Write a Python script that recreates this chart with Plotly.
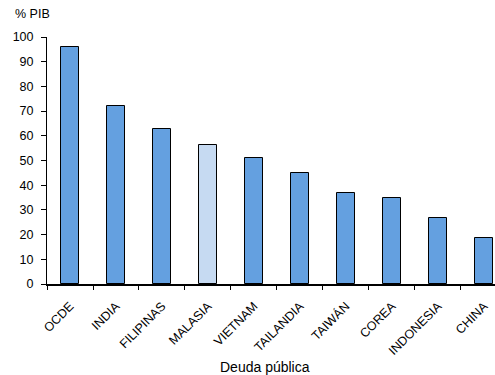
import plotly.graph_objects as go

# Deuda pública (% del PIB)
paises = ["OCDE", "INDIA", "FILIPINAS", "MALASIA", "VIETNAM",
          "TAILANDIA", "TAIWÁN", "COREA", "INDONESIA", "CHINA"]
deuda = [96.0, 72.2, 62.8, 56.1, 51.2, 45.1, 37.0, 34.9, 26.8, 18.8]
destacado = "MALASIA"

AZUL = "#64A0E0"
AZUL_CLARO = "#C6DAF2"
colores = [AZUL_CLARO if p == destacado else AZUL for p in paises]

fig = go.Figure(go.Bar(
    x=paises, y=deuda, width=0.41,
    marker=dict(color=colores, line=dict(color="black", width=1)),
))

fuente = "Liberation Sans, Arial, sans-serif"
fig.update_layout(
    width=495, height=375,
    margin=dict(l=47, r=0, t=37, b=91),
    paper_bgcolor="white", plot_bgcolor="white",
    showlegend=False, bargap=0,
    font=dict(family=fuente, color="black", size=12),
    xaxis=dict(
        type="category", range=[-0.5, 9.24],
        showline=True, linecolor="black", linewidth=2, layer="above traces",
        ticks="outside", tickson="boundaries", ticklen=4, tickwidth=1,
        tickcolor="black", tickangle=-45, tickfont=dict(size=12.5),
        ticklabelstandoff=8, showgrid=False,
    ),
    yaxis=dict(
        range=[0, 100], dtick=10,
        showline=True, linecolor="black", linewidth=1,
        ticks="outside", ticklen=5, tickcolor="black",
        ticklabelstandoff=5,
        showgrid=False, zeroline=False, tickfont=dict(size=12.5),
    ),
    annotations=[
        dict(text="% PIB", xref="paper", yref="paper", x=-0.075, y=1.055,
             xanchor="left", yanchor="bottom", showarrow=False,
             font=dict(size=12.5)),
        dict(text="Deuda pública", xref="paper", yref="paper",
             x=0.487, y=-0.336, xanchor="center", yanchor="middle",
             showarrow=False, font=dict(size=14)),
    ],
)

fig.write_html("out.html")
